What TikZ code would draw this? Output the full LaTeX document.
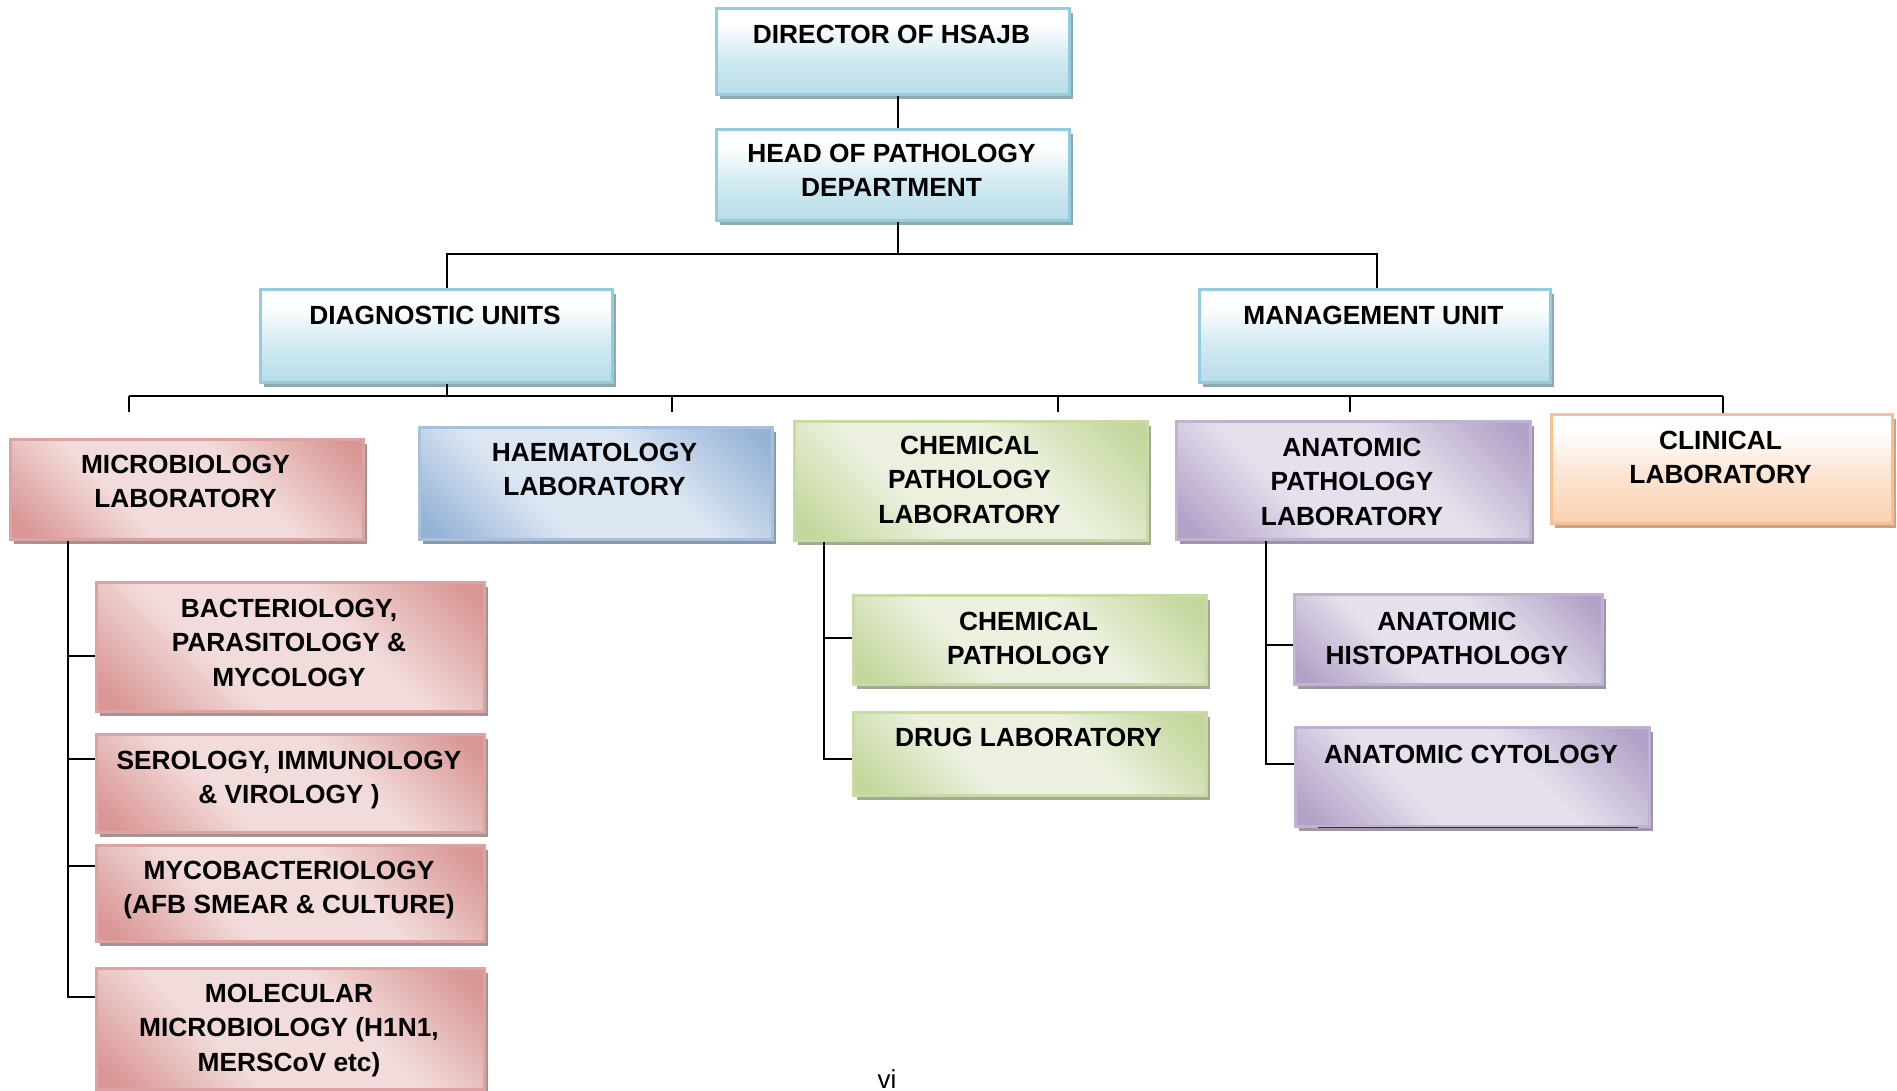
\documentclass[tikz,border=0pt]{standalone}
\usepackage{fontspec}
\setmainfont{Liberation Sans}
\usetikzlibrary{shadows}
\definecolor{cD}{HTML}{B7DDE8}\definecolor{cM}{HTML}{D4EBF2}\definecolor{cB}{HTML}{93CDDD}\definecolor{cS}{HTML}{8FA9B1}
\definecolor{rD}{HTML}{D99694}\definecolor{rL}{HTML}{F2DCDB}\definecolor{rB}{HTML}{DDA3A2}\definecolor{rS}{HTML}{A49392}
\definecolor{hD}{HTML}{95B3D7}\definecolor{hL}{HTML}{DCE6F2}\definecolor{hB}{HTML}{A7C0DE}\definecolor{hS}{HTML}{8E98A6}
\definecolor{gD}{HTML}{C3D69B}\definecolor{gL}{HTML}{EBF1DE}\definecolor{gB}{HTML}{C8DBA3}\definecolor{gS}{HTML}{A3A996}
\definecolor{pD}{HTML}{B2A1C7}\definecolor{pL}{HTML}{E5E0EC}\definecolor{pB}{HTML}{BFB2D3}\definecolor{pS}{HTML}{9D97A6}
\definecolor{oD}{HTML}{F9D1B0}\definecolor{oM}{HTML}{FCE4D2}\definecolor{oB}{HTML}{F9C08F}\definecolor{oS}{HTML}{C4A48C}
\pgfdeclareverticalshading{cyansh}{100bp}{color(0bp)=(cD); color(25bp)=(cD); color(47bp)=(cM); color(66bp)=(white); color(100bp)=(white)}
\pgfdeclareverticalshading{orangesh}{100bp}{color(0bp)=(oD); color(25bp)=(oD); color(47bp)=(oM); color(68bp)=(white); color(100bp)=(white)}
\pgfdeclarehorizontalshading{redsh}{100bp}{color(0bp)=(rD); color(18bp)=(rD); color(38bp)=(rL); color(60bp)=(rL); color(82bp)=(rD); color(100bp)=(rD)}
\pgfdeclarehorizontalshading{bluesh}{100bp}{color(0bp)=(hD); color(18bp)=(hD); color(38bp)=(hL); color(60bp)=(hL); color(82bp)=(hD); color(100bp)=(hD)}
\pgfdeclarehorizontalshading{greensh}{100bp}{color(0bp)=(gD); color(18bp)=(gD); color(38bp)=(gL); color(60bp)=(gL); color(82bp)=(gD); color(100bp)=(gD)}
\pgfdeclarehorizontalshading{purplesh}{100bp}{color(0bp)=(pD); color(18bp)=(pD); color(38bp)=(pL); color(60bp)=(pL); color(82bp)=(pD); color(100bp)=(pD)}
\tikzset{
  boxbase/.style={rectangle, inner sep=0pt, line width=2.5pt, anchor=north west},
  cyanbox/.style={boxbase, draw=cB, shading=cyansh, drop shadow={shadow xshift=3.5pt,shadow yshift=-5pt,fill=cS,opacity=1}},
  orangebox/.style={boxbase, draw=oB, shading=orangesh, drop shadow={shadow xshift=3.5pt,shadow yshift=-5pt,fill=oS,opacity=1}},
  redbox/.style={boxbase, draw=rB, shading=redsh, shading angle=45, drop shadow={shadow xshift=3.5pt,shadow yshift=-5pt,fill=rS,opacity=1}},
  bluebox/.style={boxbase, draw=hB, shading=bluesh, shading angle=45, drop shadow={shadow xshift=3.5pt,shadow yshift=-5pt,fill=hS,opacity=1}},
  greenbox/.style={boxbase, draw=gB, shading=greensh, shading angle=45, drop shadow={shadow xshift=3.5pt,shadow yshift=-5pt,fill=gS,opacity=1}},
  purplebox/.style={boxbase, draw=pB, shading=purplesh, shading angle=45, drop shadow={shadow xshift=3.5pt,shadow yshift=-5pt,fill=pS,opacity=1}},
  lbl/.style={anchor=north, inner sep=0pt, align=center, font=\bfseries\fontsize{26.3}{34.5}\selectfont},
  conn/.style={draw=black, line width=1.5pt},
}
% box: style, name, x1, y1, x2, y2
\newcommand\orgbox[6]{\node[#1, minimum width={(#5-#3)*1pt}, minimum height={(#6-#4)*1pt}] (#2) at (#3,#4) {};}
\begin{document}
\begin{tikzpicture}[x=1pt,y=-1pt]
\useasboundingbox (0,0) rectangle (1897,1090);
% boxes
\orgbox{cyanbox}{dir}{715}{7}{1068}{93}
\orgbox{cyanbox}{head}{715}{128}{1068}{219}
\orgbox{cyanbox}{diag}{259}{288}{611}{381}
\orgbox{cyanbox}{mgmt}{1198}{288}{1549}{381}
\orgbox{redbox}{micro}{9}{438}{362}{538}
\orgbox{bluebox}{haem}{418}{426}{771}{538}
\orgbox{greenbox}{chem}{793}{420}{1146}{539}
\orgbox{purplebox}{anat}{1175}{420}{1529}{538}
\orgbox{orangebox}{clin}{1550}{413}{1891}{522}
\orgbox{redbox}{bact}{95}{581}{483}{710}
\orgbox{redbox}{sero}{95}{733}{483}{831}
\orgbox{redbox}{myco}{95}{844}{483}{940}
\orgbox{redbox}{mole}{95}{967}{483}{1088}
\orgbox{greenbox}{chp}{852}{594}{1205}{683}
\orgbox{greenbox}{drug}{852}{711}{1205}{794}
\orgbox{purplebox}{hist}{1293}{593}{1601}{683}
\orgbox{purplebox}{cyto}{1294}{726}{1648}{825}
\draw[line width=1.2pt, black!80] ([xshift=24pt]cyto.south west) -- ([xshift=-13pt]cyto.south east);
% labels
\node[lbl] (dirt) at (891.5,25) {DIRECTOR OF HSAJB};
\node[lbl] (headt) at (891.5,143.5) {HEAD OF PATHOLOGY\\DEPARTMENT};
\node[lbl] (diagt) at (435,305.5) {DIAGNOSTIC UNITS};
\node[lbl] (mgmtt) at (1373.5,305.5) {MANAGEMENT UNIT};
\node[lbl] (microt) at (185.5,454.5) {MICROBIOLOGY\\LABORATORY};
\node[lbl] (haemt) at (594.5,442.5) {HAEMATOLOGY\\LABORATORY};
\node[lbl] (chemt) at (969.5,435.5) {CHEMICAL\\PATHOLOGY\\LABORATORY};
\node[lbl] (anatt) at (1352,437.5) {ANATOMIC\\PATHOLOGY\\LABORATORY};
\node[lbl] (clint) at (1720.5,430.5) {CLINICAL\\LABORATORY};
\node[lbl] (bactt) at (289,598.5) {BACTERIOLOGY,\\PARASITOLOGY \&\\MYCOLOGY};
\node[lbl] (serot) at (289,750.5) {SEROLOGY, IMMUNOLOGY\\\& VIROLOGY )};
\node[lbl] (mycot) at (289,860.5) {MYCOBACTERIOLOGY\\(AFB SMEAR \& CULTURE)};
\node[lbl] (molet) at (289,983.5) {MOLECULAR\\MICROBIOLOGY (H1N1,\\MERSCoV etc)};
\node[lbl] (chpt) at (1028.5,611.5) {CHEMICAL\\PATHOLOGY};
\node[lbl] (drugt) at (1028.5,727.5) {DRUG LABORATORY};
\node[lbl] (histt) at (1447,611.5) {ANATOMIC\\HISTOPATHOLOGY};
\node[lbl] (cytot) at (1471,744.5) {ANATOMIC CYTOLOGY};
\node[anchor=base, inner sep=0pt, font=\fontsize{26}{30}\selectfont] (page) at (887,1088) {vi};
% connectors
\coordinate (t1) at (898,254);
\coordinate (b1l) at (447,254);
\coordinate (b1r) at (1377,254);
\draw[conn] (dir.south -| t1) -- (head.north -| t1);
\draw[conn] (head.south -| t1) -- (t1);
\draw[conn] (diag.north -| b1l) -- (b1l) -- (b1r) -- (mgmt.north -| b1r);
\coordinate (b2) at (447,396);
\coordinate (d1) at (129,396);
\coordinate (d2) at (672,396);
\coordinate (d3) at (1058,396);
\coordinate (d4) at (1350,396);
\coordinate (d5) at (1723,396);
\draw[conn] (diag.south -| b2) -- (b2);
\draw[conn] (d1) -- (d5);
\draw[conn, shorten >=26pt] (d1) -- (micro.north -| d1);
\draw[conn, shorten >=14pt] (d2) -- (haem.north -| d2);
\draw[conn, shorten >=8pt] (d3) -- (chem.north -| d3);
\draw[conn, shorten >=8pt] (d4) -- (anat.north -| d4);
\draw[conn] (d5) -- (clin.north -| d5);
% microbiology branch
\coordinate (m1) at (68,656);
\coordinate (m2) at (68,759);
\coordinate (m3) at (68,866);
\coordinate (m4) at (68,997);
\draw[conn] (micro.south -| m1) -- (m4) -- (m4 -| mole.west);
\draw[conn] (m1) -- (m1 -| bact.west);
\draw[conn] (m2) -- (m2 -| sero.west);
\draw[conn] (m3) -- (m3 -| myco.west);
% chemical branch
\coordinate (c1) at (824,638);
\coordinate (c2) at (824,759);
\draw[conn] (chem.south -| c1) -- (c2) -- (c2 -| drug.west);
\draw[conn] (c1) -- (c1 -| chp.west);
% anatomic branch
\coordinate (a1) at (1266,645);
\coordinate (a2) at (1266,764);
\draw[conn] (anat.south -| a1) -- (a2) -- (a2 -| cyto.west);
\draw[conn] (a1) -- (a1 -| hist.west);
\end{tikzpicture}
\end{document}
